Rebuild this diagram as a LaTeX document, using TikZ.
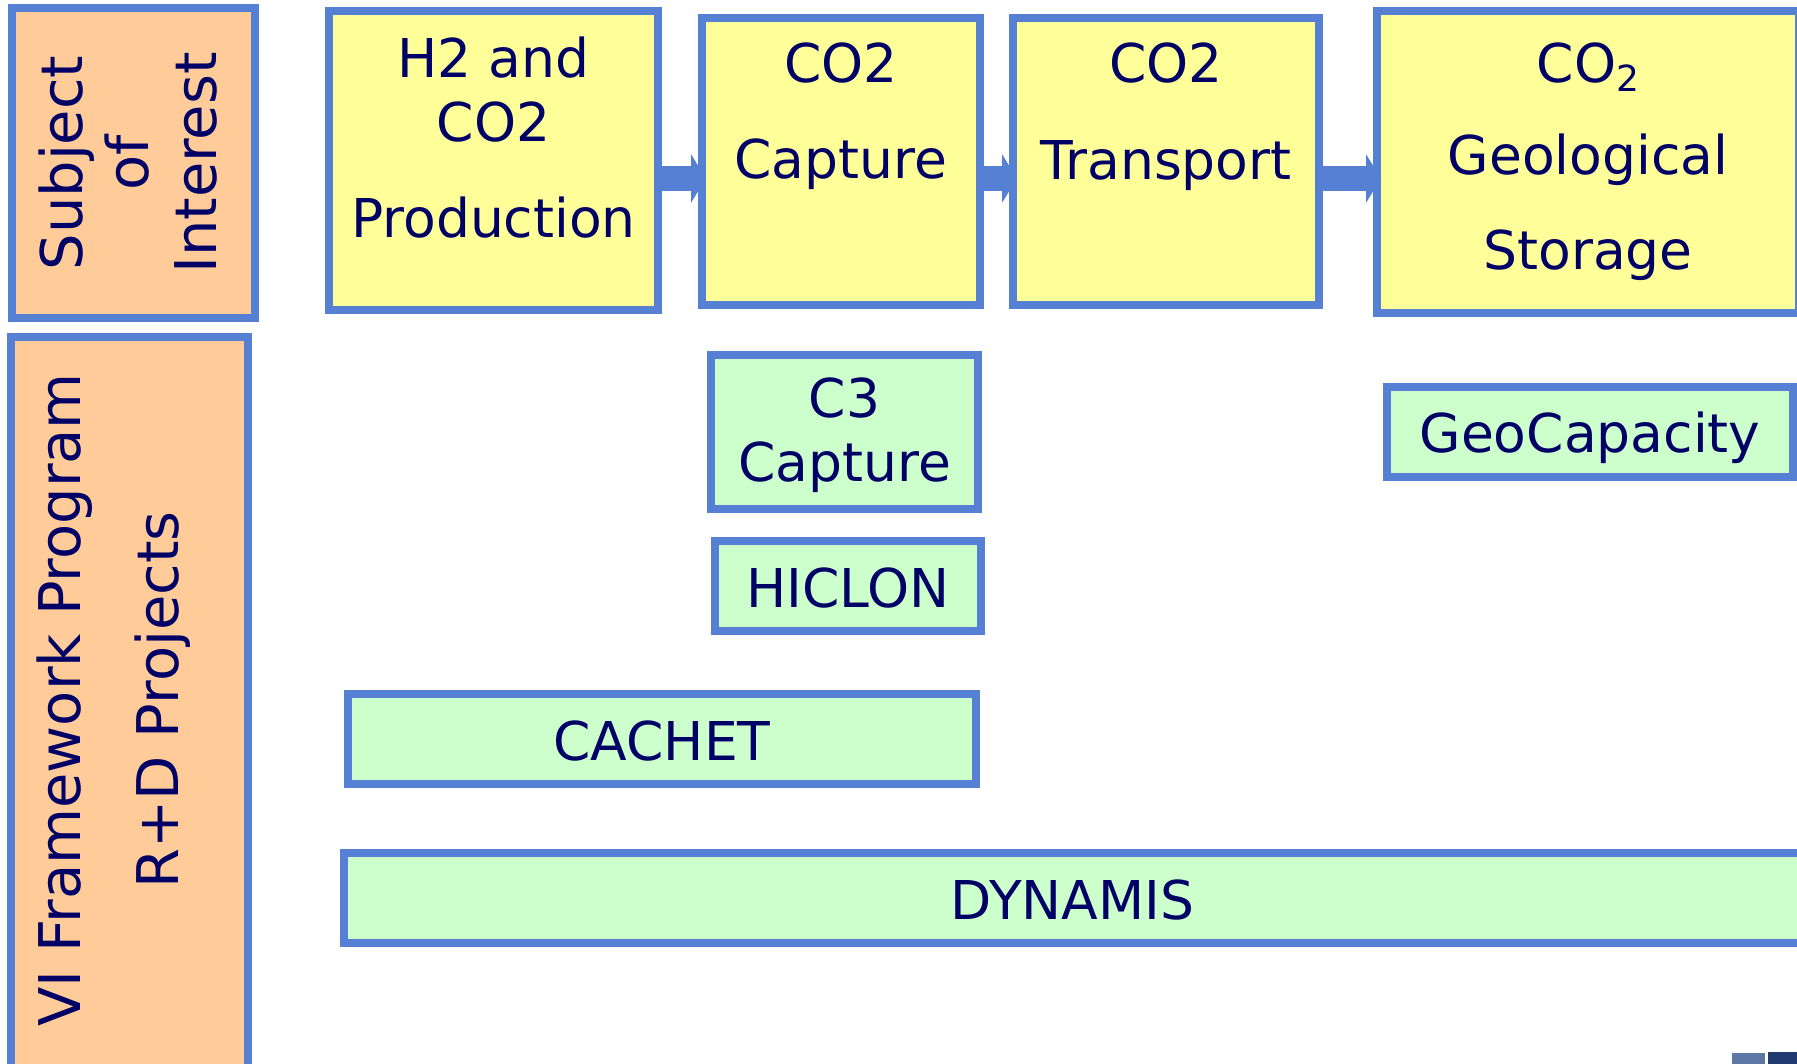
\documentclass[tikz,border=0pt]{standalone}
\usepackage{fontspec}
\setmainfont{DejaVu Sans}
\usetikzlibrary{arrows.meta}
\definecolor{bordc}{RGB}{85,128,212}
\definecolor{yel}{RGB}{255,255,153}
\definecolor{grn}{RGB}{204,255,204}
\definecolor{org}{RGB}{255,204,153}
\definecolor{txtc}{RGB}{0,0,102}
\definecolor{logoA}{RGB}{92,120,165}
\definecolor{logoB}{RGB}{30,58,110}
\begin{document}
\begin{tikzpicture}[x=1pt,y=-1pt,
  box/.style={draw=bordc, line width=8pt, inner sep=0pt, outer sep=0pt},
  ybox/.style={box, fill=yel},
  gbox/.style={box, fill=grn},
  obox/.style={box, fill=org},
  txt/.style={text=txtc, font=\fontsize{53.5}{53.5}\selectfont, inner sep=0pt, anchor=base},
  side/.style={text=txtc, font=\fontsize{57.5}{57.5}\selectfont, inner sep=0pt, anchor=base, rotate=90},
  arr/.style={draw=bordc, line width=25pt, -{Triangle[length=15pt,width=48pt]}, shorten >=-4pt}]
\path[use as bounding box] (0,0) rectangle (1797,1064);
\clip (0,0) rectangle (1797,1064);

% side labels
\node[obox, minimum width=243pt, minimum height=310pt] (subj) at (133.5,163) {};
\node[side] (subjA) at (82,163) {Subject};
\node[side] (subjB) at (148,163) {of};
\node[side] (subjC) at (216,163) {Interest};

\node[obox, minimum width=237pt, minimum height=733pt] (vi) at (129.5,703.5) {};
\node[side] (viA) at (80,700) {VI Framework Program};
\node[side] (viB) at (178,700) {R+D Projects};

% top process boxes
\node[ybox, minimum width=329pt, minimum height=299pt] (h2) at (493.5,160.5) {};
\node[txt] (h2A) at (493.5,78) {H2 and};
\node[txt] (h2B) at (493.5,142) {CO2};
\node[txt] (h2C) at (493.5,238) {Production};

\node[ybox, minimum width=278pt, minimum height=287pt] (cap) at (841,161.5) {};
\node[txt] (capA) at (841,83) {CO2};
\node[txt] (capB) at (841,179) {Capture};

\node[ybox, minimum width=306pt, minimum height=287pt] (trans) at (1166,161.5) {};
\node[txt] (transA) at (1166,83) {CO2};
\node[txt] (transB) at (1166,180) {Transport};

\node[ybox, minimum width=422pt, minimum height=302pt] (stor) at (1588,162) {};
\node[txt] (storA) at (1588,83) {CO\raisebox{-9pt}{\fontsize{36}{36}\selectfont 2}};
\node[txt] (storB) at (1588,175) {Geological};
\node[txt] (storC) at (1588,270) {Storage};

% project boxes
\node[gbox, minimum width=267pt, minimum height=154pt] (c3) at (844.5,432) {};
\node[txt] (c3A) at (844.5,418) {C3};
\node[txt] (c3B) at (844.5,482) {Capture};

\node[gbox, minimum width=266pt, minimum height=90pt] (hic) at (848,586) {};
\node[txt] (hicA) at (848,607) {HICLON};

\node[gbox, minimum width=406pt, minimum height=90pt] (geo) at (1590,432) {};
\node[txt] (geoA) at (1590,453) {GeoCapacity};

\node[gbox, minimum width=628pt, minimum height=90pt] (cachet) at (662,739) {};
\node[txt] (cachetA) at (662,760) {CACHET};

\node[gbox, minimum width=1457pt, minimum height=90pt] (dyn) at (1072.5,898) {};
\node[txt] (dynA) at (1072.5,919) {DYNAMIS};

% arrows
\coordinate (ay) at (0,178.5);
\draw[arr] (h2.east |- ay) -- (cap.west |- ay);
\draw[arr] (cap.east |- ay) -- (trans.west |- ay);
\draw[arr] (trans.east |- ay) -- (stor.west |- ay);

% logo fragment
\fill[logoA] (1732,1053) rectangle (1765,1064);
\fill[logoB] (1768,1052) rectangle (1797,1064);
\end{tikzpicture}
\end{document}
